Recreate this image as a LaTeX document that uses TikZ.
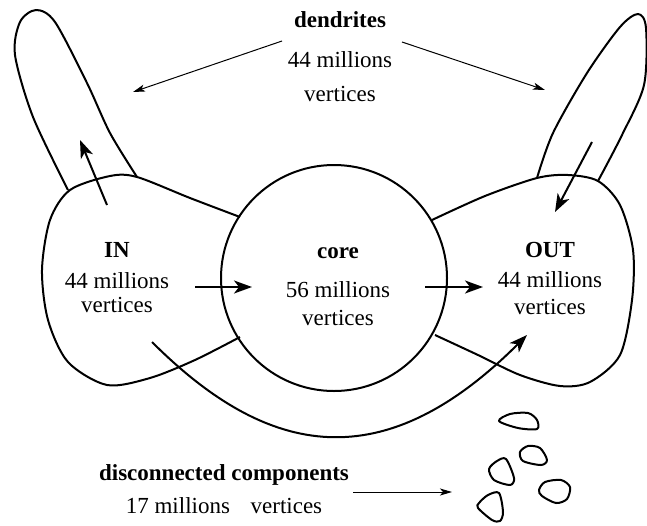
\documentclass[tikz,border=0pt]{standalone}
\usepackage{fontspec}
\setmainfont{Liberation Serif}
\usetikzlibrary{arrows.meta}

\tikzset{
  blob/.style={line width=1pt, line join=round},
  bigarrow/.style={line width=1pt, -{Stealth[length=9pt,width=6.5pt,inset=2.5pt]}},
  thinarrow/.style={line width=0.5pt, -{Stealth[length=6pt,width=3.5pt,inset=1.5pt]}},
  label/.style={anchor=base, align=center, inner sep=0pt, font=\fontsize{11.5}{12.5}\selectfont}
}

\begin{document}
\begin{tikzpicture}[x=0.5pt,y=-0.5pt]
			\useasboundingbox (0,0) rectangle (647,525);
			
			% core, IN and OUT
			\draw [blob] (334,278) circle [radius=113];
			\draw [blob] plot [smooth] coordinates {(240,217) (190,198) (137,177) (110,176) (70,190) (50,220) (42,270) (48,320) (68,362) (107,385) (150,378) (195,360) (240,337)};
			\draw [blob] plot [smooth] coordinates {(432,220) (485,196) (537,178) (568,175) (598,181) (620,205) (633,250) (632,300) (620,355) (590,382) (560,386) (520,375) (478,355) (435,335)};
			
			% dendrites
			\draw [blob] plot [smooth] coordinates {(68,190) (33,117) (15,55) (20,22) (36,10) (55,22) (87,83) (110,133) (137,177)};
			\draw [blob] plot [smooth] coordinates {(537,178) (553,133) (587,73) (620,27) (638,14) (646,28) (644,85) (622,135) (598,181)};
			
			% disconnected components
			\draw [blob] plot [smooth cycle] coordinates {(499,421) (510,414) (528,413) (537,420) (537,429) (518,428)};
			\draw [blob] plot [smooth cycle] coordinates {(520,452) (528,446) (540,448) (547,460) (541,465) (523,461)};
			\draw [blob] plot [smooth cycle] coordinates {(489,469) (497,461) (506,459) (514,478) (510,485) (494,480)};
			\draw [blob] plot [smooth cycle] coordinates {(539,490) (545,482) (561,480) (570,487) (567,499) (556,503) (542,496)};
			\draw [blob] plot [smooth cycle] coordinates {(479,503) (488,495) (499,493) (503,512) (500,521) (492,520) (478,508)};
			
			% texts, anchored at the baseline of their last line
			\node [label] (dend) at (340,101) {\textbf{dendrites}\\[7.5pt]44 millions\\[4.5pt]vertices};
			\node [label] (in) at (117,312) {\textbf{IN}\\[3pt]44 millions\\[-0.5pt]vertices};
			\node [label] (core) at (338,325) {\textbf{core}\\[7pt]56 millions\\[1.5pt]vertices};
			\node [label] (out) at (550,314) {\textbf{OUT}\\[2.5pt]44 millions\\[1pt]vertices};
			\node [label] (disc) at (224,513) {\textbf{disconnected components}\\[4pt]17 millions\hspace{0.9em}vertices};
			
			\coordinate (dendL) at (282,41);
			\coordinate (dendLtip) at (133,92);
			\coordinate (dendR) at (402,42);
			\coordinate (dendRtip) at (545,90);
			\coordinate (inA) at (195,287);
			\coordinate (coreA) at (252,287);
			\coordinate (coreB) at (425,287);
			\coordinate (outB) at (483,287);
			\coordinate (inUp) at (107,205);
			\coordinate (inUptip) at (80,140);
			\coordinate (outDn) at (592,142);
			\coordinate (outDntip) at (555,212);
			\coordinate (tube) at (152,342);
			\coordinate (tubetip) at (527,335);
			\coordinate (discA) at (353,492);
			\coordinate (discB) at (452,492);
			
			\draw [thinarrow] (dendL) to (dendLtip);
			\draw [thinarrow] (dendR) to (dendRtip);
			\draw [thinarrow] (discA) to (discB);
			
			\draw [bigarrow] (inA) to (coreA);
			\draw [bigarrow] (coreB) to (outB);
			\draw [bigarrow] (inUp) to (inUptip);
			\draw [bigarrow] (outDn) to (outDntip);
			\draw [bigarrow] (tube) .. controls (269,459) and (384,478) .. (tubetip);
\end{tikzpicture}
\end{document}
